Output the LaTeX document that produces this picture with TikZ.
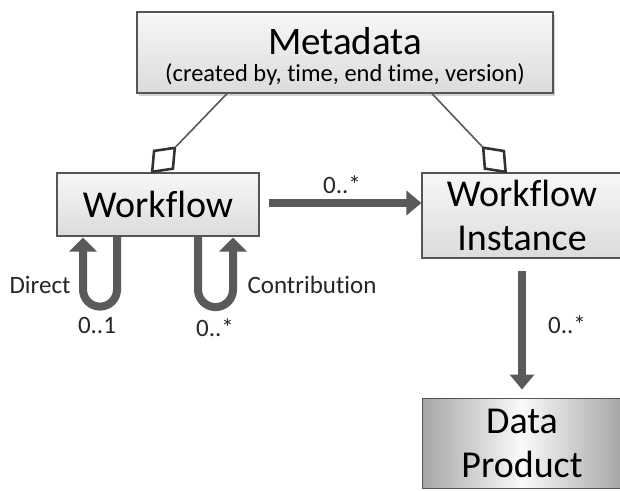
\documentclass[tikz,border=0pt]{standalone}
\usepackage{fontspec}
\setmainfont[RawFeature=-liga]{Carlito}
\usetikzlibrary{arrows.meta,shadows,calc,shapes.geometric}
\definecolor{arrowgray}{HTML}{5A5A5A}
\definecolor{boxedge}{HTML}{555555}
\tikzset{
  box/.style={draw=boxedge, line width=1.2pt, top color=gray!6, bottom color=gray!28, inner sep=0pt, align=center},
  bigfont/.style={font=\fontsize{38}{47}\selectfont},
  lbl/.style={font=\fontsize{25}{28}\selectfont, text=black!85, inner sep=0pt},
  fat/.style={draw=arrowgray, line width=8pt, -{Triangle[length=15pt,width=24pt]}},
  fatloop/.style={draw=arrowgray, line width=8pt, -{Triangle[length=14pt,width=27pt]}},
  agg/.style={draw=gray!70!black, line width=1.6pt},
  aggdiamond/.style={diamond, draw=black!80, fill=white, line width=2.6pt, inner sep=0pt, minimum width=27pt, minimum height=34pt},
}
\begin{document}
\begin{tikzpicture}[x=1pt,y=1pt]
\path[use as bounding box, fill=white] (0,0) rectangle (620,-490);

\node[box, drop shadow={opacity=0.35, shadow xshift=2pt, shadow yshift=-3pt}, minimum width=416pt, minimum height=81pt] (meta) at (345,-52.5) {};
\node[font=\fontsize{39}{46}\selectfont, inner sep=0pt] (metat) at (345,-41) {Metadata};
\node[font=\fontsize{24.5}{28}\selectfont, inner sep=0pt] (metas) at (345,-75) {(created by, time, end time, version)};

\node[box, bigfont, minimum width=202pt, minimum height=63pt] (wf) at (158,-204.5) {Workflow};
\node[box, bigfont, minimum width=200pt, minimum height=85pt] (wi) at (522,-215.5) {Workflow\\[-3pt]Instance};
\node[draw=boxedge, line width=1pt, left color=gray!70, right color=gray!70, middle color=gray!4, bigfont, align=center, inner sep=0pt, minimum width=200pt, minimum height=90pt] (dp) at (522,-443) {Data\\[-3pt]Product};

% aggregation diamonds and links
\node[aggdiamond, rotate=-43.4] (d1) at (163.5,-159.8) {};
\node[aggdiamond, rotate=42.8] (d2) at (494.4,-159.8) {};
\draw[agg] ([xshift=-118pt]meta.south) -- (d1.north);
\draw[agg] ([xshift=87pt]meta.south) -- (d2.north);

% associations
\draw[fat] ([xshift=9pt]wf.east |- 0,-203) coordinate (h1) -- (wi.west |- h1);
\draw[fat] ([yshift=-12pt]wi.south) -- ([yshift=8pt]dp.north);

% self loops
\draw[fatloop] ([xshift=-41pt]wf.south) -- ++(0,-53) arc[start angle=0,end angle=-180,radius=17] -- ([xshift=-75pt,yshift=-1pt]wf.south);
\draw[fatloop] ([xshift=40pt]wf.south) -- ++(0,-53) arc[start angle=180,end angle=360,radius=17.5] -- ([xshift=75pt,yshift=-1pt]wf.south);

% labels
\node[lbl] (l1) at (342,-185) {0..*};
\node[lbl] (l2) at (567,-325) {0..*};
\node[lbl] (l3) at (40,-285) {Direct};
\node[lbl] (l4) at (97,-325) {0..1};
\node[lbl] (l5) at (215,-328) {0..*};
\node[lbl] (l6) at (312,-285) {Contribution};
\end{tikzpicture}
\end{document}
